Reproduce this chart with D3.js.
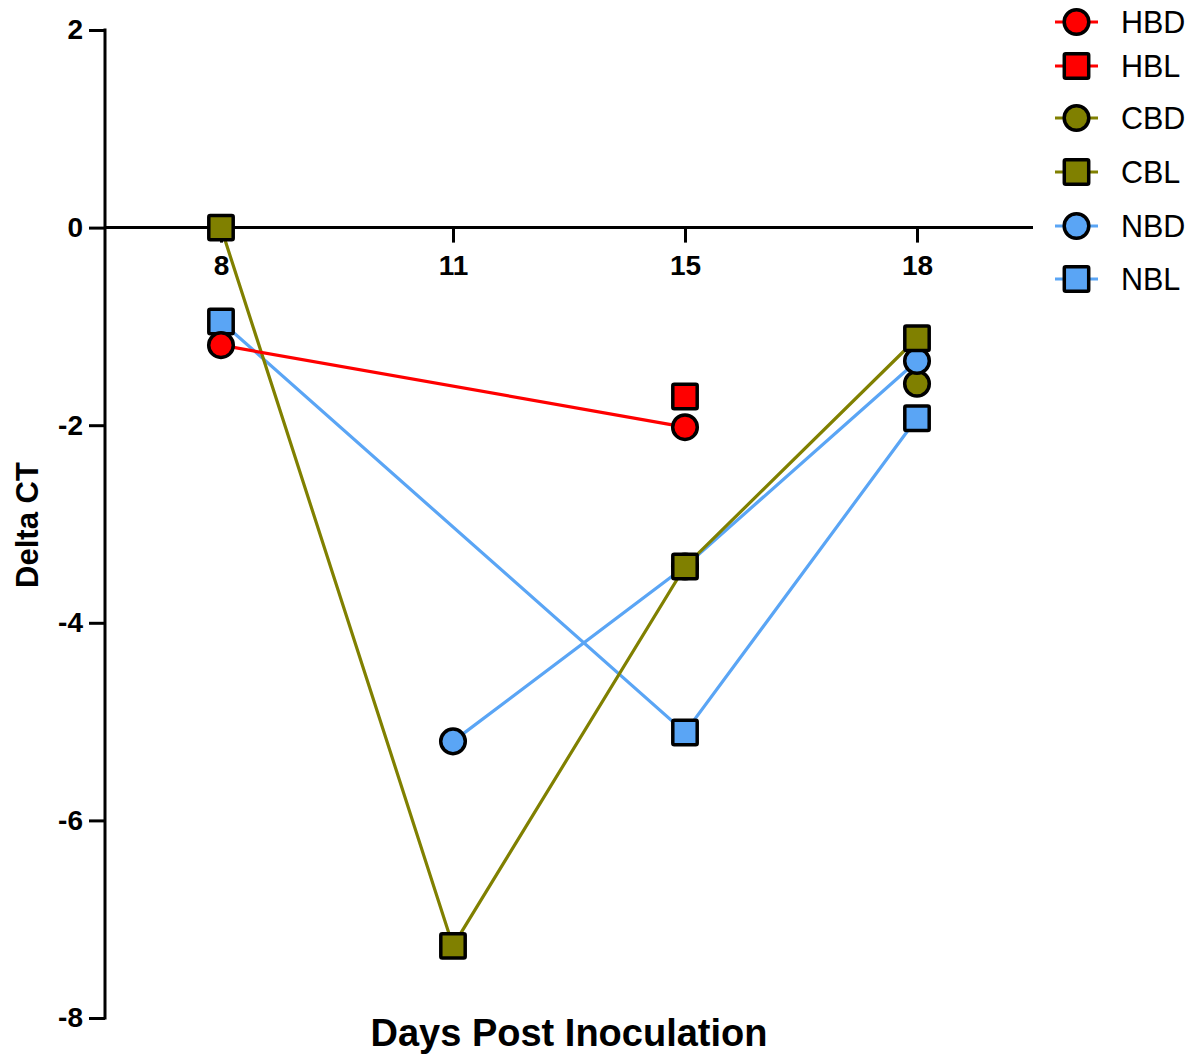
<!DOCTYPE html>
<html>
<head>
<meta charset="utf-8">
<script src="https://cdn.jsdelivr.net/npm/d3@7"></script>
<style>
  html, body { margin: 0; padding: 0; background: #fff; }
  svg { display: block; font-family: "Liberation Sans", Arial, Helvetica, sans-serif; }
</style>
</head>
<body>
<svg id="chart" width="1193" height="1055"></svg>
<script>
// Days post inoculation (categorical x positions)
const days = ["8", "11", "15", "18"];
const yTicks = [2, 0, -2, -4, -6, -8];

// Delta CT per group; null = no measurement on that day
const HBD = [-1.19, null, -2.02, null];
const HBL = [null, null, -1.71, null];
const CBD = [null, null, null, -1.58];
const CBL = [0, -7.27, -3.43, -1.12];
const NBD = [null, -5.20, -3.43, -1.35];
const NBL = [-0.95, null, -5.11, -1.93];

const seriesNames = ["HBD", "HBL", "CBD", "CBL", "NBD", "NBL"];
const seriesValues = [HBD, HBL, CBD, CBL, NBD, NBL];
const seriesColors = ["#ff0000", "#ff0000", "#808000", "#808000", "#5aa5f5", "#5aa5f5"];
const seriesShapes = ["circle", "square", "circle", "square", "circle", "square"];

const svg = d3.select("#chart");

const x = d3.scalePoint().domain(days).range([105, 1033]).padding(0.5);
const y = d3.scaleLinear().domain([-8, 2]).range([1018, 30]);

// Y axis
const yAxis = d3.axisLeft(y).tickValues(yTicks).tickSize(16).tickPadding(6).tickFormat(d3.format("d"));
const gy = svg.append("g").attr("transform", "translate(105,0)").call(yAxis);
gy.select(".domain").attr("d", `M0,${y(2) - 1.5}V${y(-8) + 1.5}`).attr("stroke", "#000").attr("stroke-width", 3);
gy.selectAll(".tick line").attr("stroke", "#000").attr("stroke-width", 3);
gy.selectAll(".tick text").style("font-size", "28px").style("font-weight", "bold").attr("fill", "#000")
  .text(d => d < 0 ? "-" + Math.abs(d) : d);

// X axis along y = 0
const xAxis = d3.axisBottom(x).tickSize(15).tickPadding(13);
const gx = svg.append("g").attr("transform", `translate(0,${y(0)})`).call(xAxis);
gx.select(".domain").attr("d", "M105,0H1033").attr("stroke", "#000").attr("stroke-width", 3);
gx.selectAll(".tick line").attr("stroke", "#000").attr("stroke-width", 3);
gx.selectAll(".tick text").style("font-size", "28px").style("font-weight", "bold").attr("fill", "#000");

// Axis titles
svg.append("text").attr("x", 569).attr("y", 1046).attr("text-anchor", "middle")
  .attr("font-size", 38).attr("font-weight", "bold").text("Days Post Inoculation");
svg.append("text").attr("transform", "translate(38,525) rotate(-90)").attr("text-anchor", "middle")
  .attr("font-size", 31).attr("font-weight", "bold").text("Delta CT");

function drawMarker(g, shape, color, cx, cy) {
  if (shape === "circle") {
    g.append("circle").attr("cx", cx).attr("cy", cy).attr("r", 12.3)
      .attr("fill", color).attr("stroke", "#000").attr("stroke-width", 3.5);
  } else {
    g.append("rect").attr("x", cx - 12.2).attr("y", cy - 12.2).attr("width", 24.4).attr("height", 24.4)
      .attr("rx", 1.5).attr("fill", color).attr("stroke", "#000").attr("stroke-width", 3.5);
  }
}

const line = d3.line().x(d => x(d.day)).y(d => y(d.v));

// Lines first, then markers
const linesG = svg.append("g");
const marksG = svg.append("g");
d3.range(seriesNames.length).reverse().forEach(i => {
  const pts = days.map((day, j) => ({ day, v: seriesValues[i][j] })).filter(p => p.v !== null);
  if (pts.length > 1) {
    linesG.append("path").datum(pts).attr("d", line).attr("fill", "none")
      .attr("stroke", seriesColors[i]).attr("stroke-width", 3.2);
  }
});
// marker stacking: NBL, CBD, NBD, CBL, HBL, HBD (last on top)
[5, 2, 4, 3, 1, 0].forEach(i => {
  const g = marksG.append("g");
  days.forEach((day, j) => {
    const v = seriesValues[i][j];
    if (v !== null) drawMarker(g, seriesShapes[i], seriesColors[i], x(day), y(v));
  });
});

// Legend
const legendY = [22, 66, 118, 172, 226, 279];
const lg = svg.append("g");
seriesNames.forEach((name, i) => {
  const row = lg.append("g");
  row.append("line").attr("x1", 1055).attr("x2", 1098).attr("y1", legendY[i]).attr("y2", legendY[i])
    .attr("stroke", seriesColors[i]).attr("stroke-width", 3);
  drawMarker(row, seriesShapes[i], seriesColors[i], 1076.5, legendY[i]);
  row.append("text").attr("x", 1121).attr("y", legendY[i]).attr("dy", "0.36em")
    .attr("font-size", 30.5).attr("fill", "#000").text(name);
});
</script>
</body>
</html>
